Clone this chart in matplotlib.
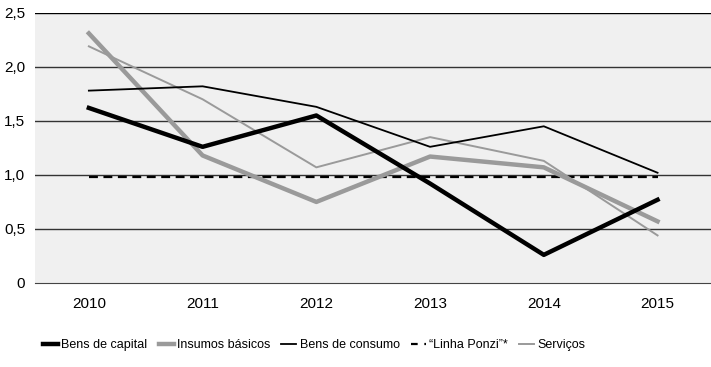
import matplotlib
matplotlib.use('Agg')
import matplotlib.pyplot as plt
import numpy as np

anos = ['2010', '2011', '2012', '2013', '2014', '2015']
bens_capital = [1.62, 1.26, 1.55, 0.92, 0.26, 0.77]
insumos = [2.31, 1.18, 0.75, 1.17, 1.07, 0.57]
bens_consumo = [1.78, 1.82, 1.63, 1.26, 1.45, 1.02]
ponzi = [0.98, 0.98, 0.98, 0.98, 0.98, 0.98]
servicos = [2.19, 1.70, 1.07, 1.35, 1.13, 0.44]

plt.rcParams['font.family'] = ['Liberation Sans', 'DejaVu Sans']

fig = plt.figure(figsize=(7.11, 3.67), dpi=100)
ax = fig.add_axes([0.049, 0.229, 0.951, 0.736])
ax.set_facecolor('#f0f0f0')

x = np.arange(len(anos))
ax.plot(x, bens_capital, color='black', lw=3.2, label='Bens de capital', zorder=5)
ax.plot(x, insumos, color='#9a9a9a', lw=3.2, label='Insumos básicos', zorder=4)
ax.plot(x, bens_consumo, color='black', lw=1.3, label='Bens de consumo', zorder=6)
ax.plot(x, ponzi, color='black', lw=1.6, ls=(0, (4, 2.5)), label='“Linha Ponzi”*', zorder=3)
ax.plot(x, servicos, color='#9a9a9a', lw=1.4, label='Serviços', zorder=4)

ax.set_xlim(-0.475, 5.47)
ax.set_ylim(0, 2.5)
ax.set_yticks([0, 0.5, 1.0, 1.5, 2.0, 2.5])
ax.set_yticklabels(['0', '0,5', '1,0', '1,5', '2,0', '2,5'])
ax.set_xticks(x)
ax.set_xticklabels(anos)
for yv in [0.5, 1.0, 1.5, 2.0, 2.5]:
    ax.axhline(yv, color='#333333' if yv != 2.5 else 'black', lw=1.0, zorder=1)
for s in ['left', 'right', 'top']:
    ax.spines[s].set_visible(False)
ax.spines['bottom'].set_color('#444444')
ax.tick_params(length=0, labelsize=11, colors='black')
ax.tick_params(axis='x', pad=10)
ax.tick_params(axis='y', pad=7)

leg = ax.legend(loc='center left', bbox_to_anchor=(0.005, -0.23), ncol=5, frameon=False,
                fontsize=9, handlelength=1.2, handletextpad=0.25, columnspacing=0.9,
                borderaxespad=0)
for h in leg.get_lines():
    if h.get_label().startswith('“'):
        h.set_dashes((3, 3))

fig.savefig('out.png', dpi=100)
